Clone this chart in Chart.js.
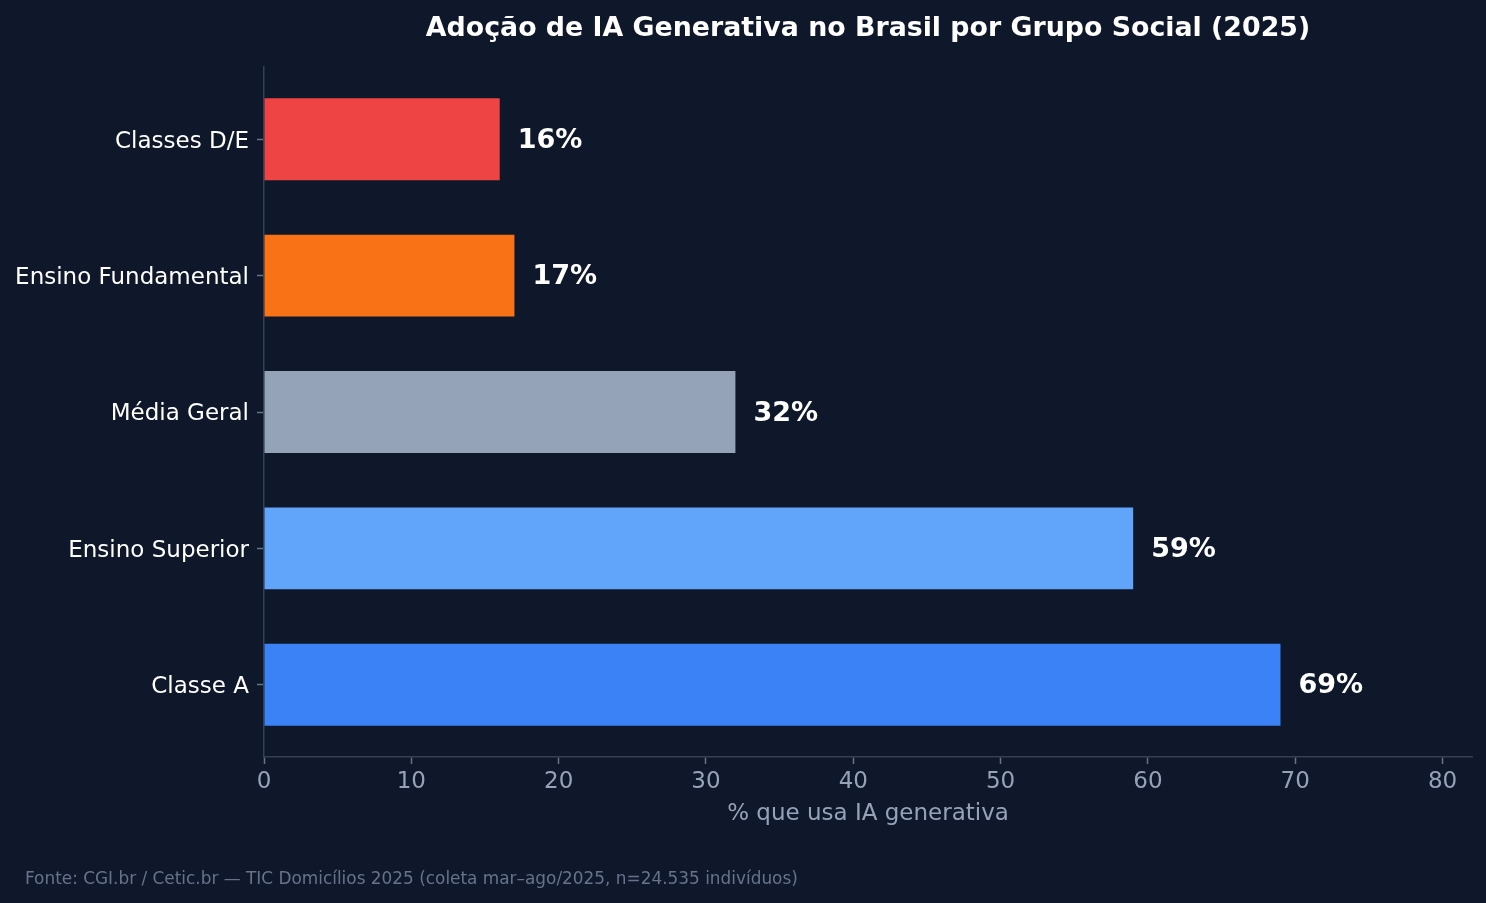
<!DOCTYPE html>
<html>
<head>
<meta charset="utf-8">
<script src="https://cdn.jsdelivr.net/npm/chart.js@4/dist/chart.umd.min.js"></script>
<style>
  html, body { margin: 0; padding: 0; background: #0f172a; }
  #wrap { width: 1486px; height: 903px; }
</style>
</head>
<body>
<div id="wrap"><canvas id="grafico"></canvas></div>
<script>
// dados (de cima para baixo)
var grupos = ['Classes D/E', 'Ensino Fundamental', 'Média Geral', 'Ensino Superior', 'Classe A'];
var adocao = [16, 17, 32, 59, 69];
var cores = ['#ef4444', '#f97316', '#94a3b8', '#60a5fa', '#3b82f6'];
var xTicks = [0, 10, 20, 30, 40, 50, 60, 70, 80];

var titulo = 'Adoção de IA Generativa no Brasil por Grupo Social (2025)';
var tituloX = '% que usa IA generativa';
var fonte = 'Fonte: CGI.br / Cetic.br — TIC Domicílios 2025 (coleta mar–ago/2025, n=24.535 indivíduos)';

var FONT = '"DejaVu Sans", sans-serif';

var pontos = grupos.map(function (g, i) { return { x: adocao[i], y: i }; });

// textos extras: titulo, titulo do eixo, fonte, rotulos das barras
var textos = {
    id: 'textos',
    afterDraw: function (chart) {
        var ctx = chart.ctx;
        var area = chart.chartArea;
        ctx.save();

        ctx.fillStyle = '#ffffff';
        ctx.font = 'bold 26.8px ' + FONT;
        ctx.textAlign = 'center';
        ctx.textBaseline = 'middle';
        ctx.fillText(titulo, (area.left + area.right) / 2, 29);

        ctx.fillStyle = '#94a3b8';
        ctx.font = '23px ' + FONT;
        ctx.fillText(tituloX, (area.left + area.right) / 2, 814);

        ctx.fillStyle = '#64748b';
        ctx.font = '16.9px ' + FONT;
        ctx.textAlign = 'left';
        ctx.fillText(fonte, 25, 880);

        var meta = chart.getDatasetMeta(0);
        ctx.fillStyle = '#ffffff';
        ctx.font = 'bold 27px ' + FONT;
        meta.data.forEach(function (bar, i) {
            ctx.fillText(adocao[i] + '%', bar.x + 18, bar.y + 1.5);
        });
        ctx.restore();
    }
};

var ctx = document.getElementById('grafico');
var chart = new Chart(ctx, {
    type: 'bar',
    data: {
        datasets: [{
            data: pontos,
            backgroundColor: cores,
            borderWidth: 0,
            barPercentage: 0.6,
            categoryPercentage: 1
        }]
    },
    options: {
        indexAxis: 'y',
        responsive: true,
        maintainAspectRatio: false,
        animation: false,
        layout: { padding: { top: 67, right: 14, left: 0, bottom: 0 } },
        plugins: {
            legend: { display: false },
            tooltip: { enabled: false },
            title: { display: false }
        },
        scales: {
            x: {
                type: 'linear',
                min: 0,
                max: 82,
                afterFit: function (s) { s.height = 146; },
                afterBuildTicks: function (s) {
                    s.ticks = xTicks.map(function (v) { return { value: v }; });
                },
                grid: {
                    drawOnChartArea: false,
                    drawTicks: true,
                    tickLength: 7,
                    tickWidth: 1.5,
                    tickColor: '#64748b'
                },
                border: { color: '#334155', width: 1.5 },
                ticks: {
                    color: '#94a3b8',
                    font: { family: FONT, size: 23 },
                    padding: 4,
                    maxRotation: 0
                }
            },
            y: {
                type: 'linear',
                min: -0.53,
                max: 4.53,
                reverse: true,
                offset: false,
                afterFit: function (s) { s.width = 264; },
                afterBuildTicks: function (s) {
                    s.ticks = grupos.map(function (g, i) { return { value: i }; });
                },
                grid: {
                    offset: false,
                    drawOnChartArea: false,
                    drawTicks: true,
                    tickLength: 7,
                    tickWidth: 1.5,
                    tickColor: '#64748b'
                },
                border: { color: '#334155', width: 1.5 },
                ticks: {
                    color: '#ffffff',
                    font: { family: FONT, size: 23 },
                    padding: 8,
                    labelOffset: 2.5,
                    callback: function (v) { return grupos[v]; }
                }
            }
        }
    },
    plugins: [textos]
});
</script>
</body>
</html>
